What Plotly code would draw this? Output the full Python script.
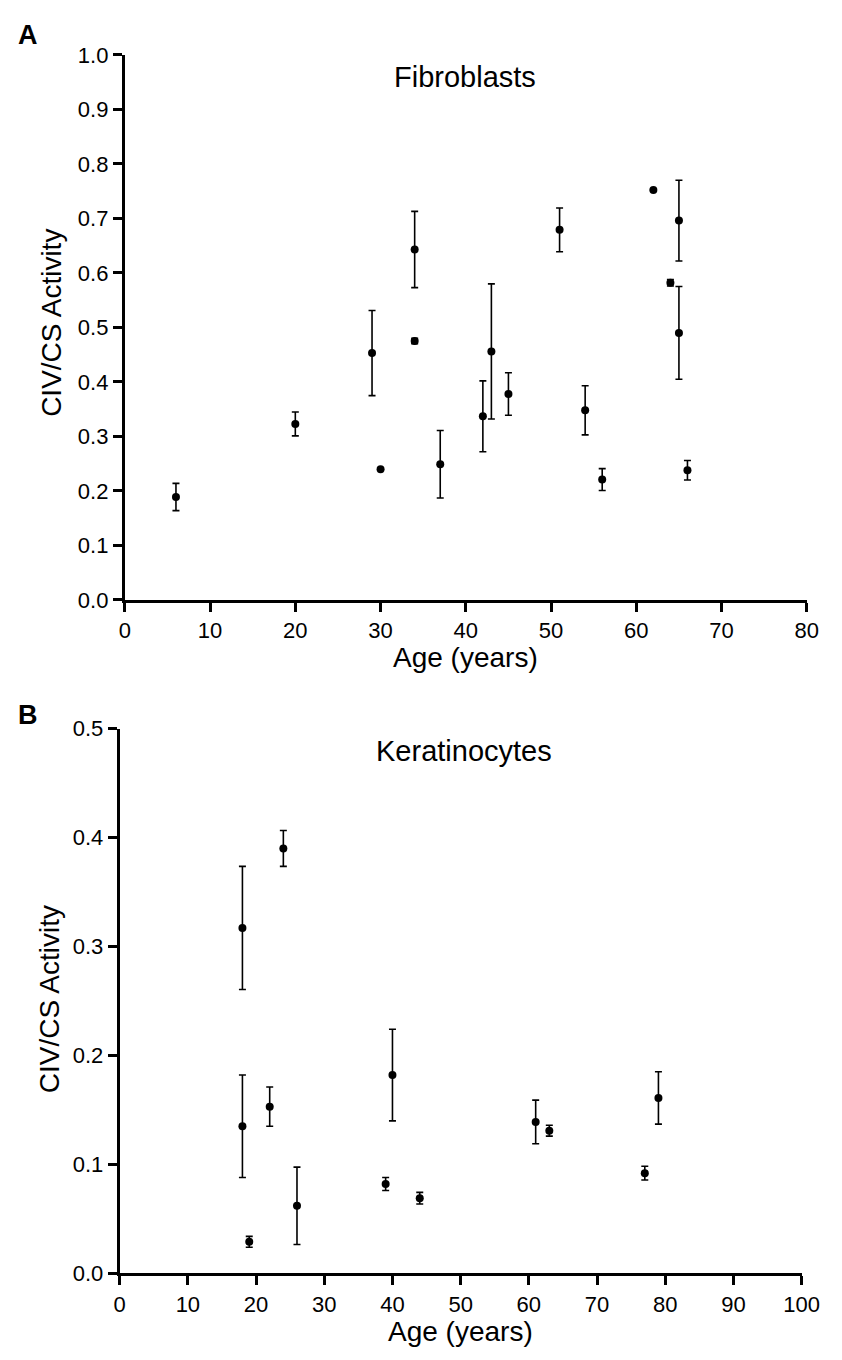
import plotly.graph_objects as go

# Panel A: Fibroblasts
ages_fib = [6, 20, 29, 30, 34, 34, 37, 42, 43, 45, 51, 54, 56, 62, 64, 65, 65, 66]
civ_fib = [0.189, 0.323, 0.453, 0.240, 0.643, 0.475, 0.249, 0.337, 0.456, 0.378,
           0.679, 0.348, 0.221, 0.752, 0.582, 0.696, 0.490, 0.238]
err_fib = [0.025, 0.022, 0.078, 0.0, 0.070, 0.005, 0.062, 0.065, 0.124, 0.039,
           0.040, 0.045, 0.020, 0.0, 0.006, 0.074, 0.085, 0.018]

# Panel B: Keratinocytes
ages_ker = [18, 18, 19, 22, 24, 26, 39, 40, 44, 61, 63, 77, 79]
civ_ker = [0.317, 0.135, 0.029, 0.153, 0.390, 0.062, 0.082, 0.182, 0.069,
           0.139, 0.131, 0.092, 0.161]
err_ker = [0.0565, 0.047, 0.005, 0.018, 0.0165, 0.0355, 0.006, 0.042, 0.0053,
           0.020, 0.005, 0.0063, 0.024]

W, H = 842, 1360
FONT = "Arial, Liberation Sans, sans-serif"

def px_x(p):
    return p / W

def px_y(p):
    return 1 - p / H

fig = go.Figure()

err_style = dict(type="data", visible=True, color="black", thickness=1.6, width=3.5)
marker = dict(color="black", size=8, symbol="circle")

fig.add_trace(go.Scatter(x=ages_fib, y=civ_fib, mode="markers", marker=marker,
                         error_y=dict(array=err_fib, **err_style),
                         xaxis="x", yaxis="y", showlegend=False))
fig.add_trace(go.Scatter(x=ages_ker, y=civ_ker, mode="markers", marker=marker,
                         error_y=dict(array=err_ker, **err_style),
                         xaxis="x2", yaxis="y2", showlegend=False))

axis_common = dict(showgrid=False, zeroline=False, showline=True, linecolor="black",
                   linewidth=3, ticks="outside", ticklen=9, tickwidth=2.5,
                   tickcolor="black", tickfont=dict(family=FONT, size=22, color="black"),
                   fixedrange=True)

fig.update_layout(
    width=W, height=H,
    margin=dict(l=0, r=0, t=0, b=0),
    paper_bgcolor="white", plot_bgcolor="white",
    font=dict(family=FONT, color="black"),
    xaxis=dict(domain=[px_x(122.3), px_x(824.3)], range=[0, 80], tickvals=list(range(0, 81, 10)),
               anchor="y", **axis_common),
    yaxis=dict(domain=[px_y(599), px_y(43.7)], range=[0, 1.0],
               tickvals=[i / 10 for i in range(11)], tickformat=".1f",
               anchor="x", **axis_common),
    xaxis2=dict(domain=[px_x(117), px_x(819)], range=[0, 100], tickvals=list(range(0, 101, 10)),
                anchor="y2", **axis_common),
    yaxis2=dict(domain=[px_y(1285), px_y(730)], range=[0, 0.5],
                tickvals=[i / 10 for i in range(6)], tickformat=".1f",
                anchor="x2", **axis_common),
)

def ann(text, x, y, size, bold=False, angle=0):
    fig.add_annotation(text=f"<b>{text}</b>" if bold else text,
                       x=px_x(x), y=px_y(y), xref="paper", yref="paper",
                       xanchor="center", yanchor="middle", showarrow=False,
                       textangle=angle, font=dict(family=FONT, size=size, color="black"))

ann("A", 23, 23, 27, bold=True)
ann("B", 23, 716, 27, bold=True)
ann("Fibroblasts", 472, 66, 29)
ann("Keratinocytes", 471, 753, 29)
ann("CIV/CS Activity", 46, 317, 28, angle=-90)
ann("CIV/CS Activity", 45, 1006, 28, angle=-90)
ann("Age (years)", 473, 658, 28)
ann("Age (years)", 468, 1344, 28)

fig.write_html("out.html")
